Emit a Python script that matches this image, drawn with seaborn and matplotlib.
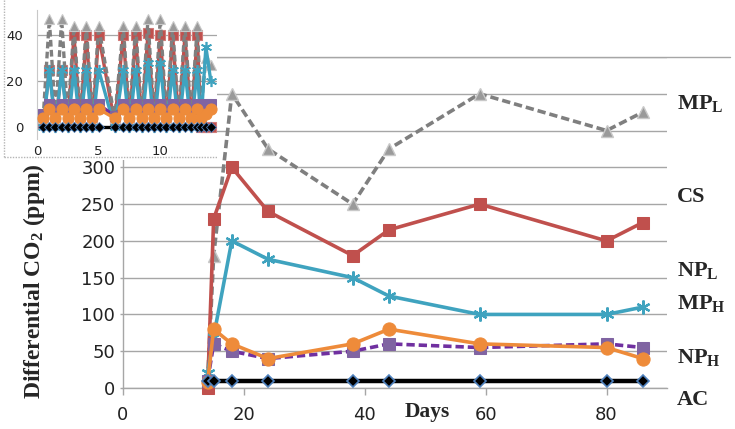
import matplotlib
matplotlib.use("Agg")
import matplotlib.pyplot as plt
import seaborn as sns
from matplotlib.patches import Rectangle
from matplotlib.lines import Line2D
import matplotlib.transforms as mtransforms

# ---------------- main chart data ----------------
days = [14, 15, 18, 24, 38, 44, 59, 80, 86]
mp_l = [10, 180, 400, 325, 250, 325, 400, 350, 375]
cs = [0, 230, 300, 240, 180, 215, 250, 200, 225]
np_l = [20, 70, 200, 175, 150, 125, 100, 100, 110]
mp_h = [10, 60, 50, 40, 50, 60, 55, 60, 55]
np_h = [8, 80, 60, 40, 60, 80, 60, 55, 40]
ac = [10, 10, 10, 10, 10, 10, 10, 10, 10]

x_ticks = [0, 20, 40, 60, 80]
y_ticks = [0, 50, 100, 150, 200, 250, 300, 350, 400, 450]
y_tick_labels = ["0", "50", "100", "150", "200", "250", "300", "", "", ""]

series_labels = ["MP$_\\mathrm{L}$", "CS", "NP$_\\mathrm{L}$", "MP$_\\mathrm{H}$", "NP$_\\mathrm{H}$", "AC"]
series_label_y = [387, 260, 160, 115, 42, -16]

# ---------------- inset data (first two weeks) ----------------
t_in = [0.5, 1, 1.5, 2, 2.5, 3, 3.5, 4, 4.5, 5, 6.3, 7, 7.5, 8, 8.5, 9, 9.5, 10,
        10.5, 11, 11.5, 12, 12.5, 13, 13.3, 13.7, 14.1]
in_mp_l = [4, 47, 4, 47, 4, 44, 4, 44, 4, 44, 4, 44, 4, 44, 4, 47, 4, 47,
           4, 44, 4, 44, 4, 44, 8, 30, 27]
in_cs = [2, 25, 2, 25, 2, 40, 2, 40, 2, 40, 2, 40, 2, 40, 2, 41, 2, 40,
         2, 40, 2, 40, 2, 40, 0, 0, 0]
in_np_l = [0, 25, 0, 25, 0, 25, 0, 25, 0, 25, 0, 25, 0, 25, 0, 28, 0, 28,
           0, 25, 0, 25, 0, 25, 2, 35, 20]
in_mp_h = [6, 10, 8, 10, 8, 10, 8, 10, 8, 10, 5, 10, 8, 10, 8, 10, 8, 10,
           8, 10, 8, 10, 8, 10, 9, 10, 10]
in_np_h = [4, 8, 4, 8, 4, 8, 4, 8, 4, 8, 4, 8, 4, 8, 4, 8, 4, 8,
           4, 8, 4, 8, 4, 8, 4, 6, 8]
in_ac = [0, 0, 0, 0, 0, 0, 0, 0, 0, 0, 0, 0, 0, 0, 0, 0, 0, 0,
         0, 0, 0, 0, 0, 0, 0, 0, 0]
in_x_ticks = [0, 5, 10]
in_y_ticks = [0, 20, 40]

# ---------------- styling ----------------
sns.set_style("white")
plt.rcParams['font.family'] = ['DejaVu Sans']
plt.rcParams['mathtext.fontset'] = 'custom'
plt.rcParams['mathtext.rm'] = 'Liberation Serif:bold'
plt.rcParams['mathtext.it'] = 'Liberation Serif:bold'
plt.rcParams['mathtext.bf'] = 'Liberation Serif:bold'

C_GRAY = '#7F7F7F'
C_RED = '#C0504D'
C_TEAL = '#3FA3BF'
C_PURPLE = '#7030A0'
C_PURPLE_M = '#8064A2'
C_ORANGE = '#EE8B3A'
C_GRID = '#A6A6A6'

W, H = 735, 429
fig = plt.figure(figsize=(W / 100, H / 100), dpi=100)


def fx(px):
    return px / W


def fy(py):
    return 1 - py / H


ax = fig.add_axes([fx(123), fy(388), fx(667) - fx(123), fy(57) - fy(388)])
ax.set_zorder(0)
ax.set_xlim(0, 90)
ax.set_ylim(0, 450)
ax.set_xticks(x_ticks)
ax.set_yticks(y_ticks)
ax.set_yticklabels(y_tick_labels)
ax.grid(axis='y', color=C_GRID, lw=1.0)
ax.grid(axis='x', visible=False)
ax.set_axisbelow(True)
for s in ['top', 'right']:
    ax.spines[s].set_visible(False)
for s in ['left', 'bottom']:
    ax.spines[s].set_color(C_GRID)
    ax.spines[s].set_linewidth(1.0)
ax.tick_params(axis='x', length=5, width=1, color=C_GRID, pad=8, labelsize=13, labelcolor='#222222')
ax.tick_params(axis='y', length=2.5, width=1, color=C_GRID, pad=3, labelsize=13, labelcolor='#222222')
ax.tick_params(bottom=True, left=True)

# top gridline extends further right
top_line = ax.axhline(450, xmin=0, xmax=(730 - 123) / (667 - 123), color=C_GRID, lw=1.0)
top_line.set_clip_on(False)

dash = (0, (2.3, 1.1))
common = dict(ax=ax, sort=False, estimator=None, legend=False, clip_on=False)
sns.lineplot(x=days, y=mp_l, color=C_GRAY, lw=2.6, linestyle=dash, marker='^', markersize=9,
             markerfacecolor='#9A9A9A', markeredgecolor='#C8C8C8', markeredgewidth=1, zorder=3, **common)
sns.lineplot(x=days, y=cs, color=C_RED, lw=2.6, marker='s', markersize=8.5,
             markerfacecolor=C_RED, markeredgecolor=C_RED, zorder=4, **common)
sns.lineplot(x=days, y=np_l, color=C_TEAL, lw=2.6, marker=(6, 2, 0), markersize=10,
             markeredgecolor=C_TEAL, markeredgewidth=1.6, zorder=5, **common)
sns.lineplot(x=days, y=mp_h, color=C_PURPLE, lw=2.6, linestyle=dash, marker='s', markersize=8.5,
             markerfacecolor=C_PURPLE_M, markeredgecolor=C_PURPLE_M, zorder=6, **common)
sns.lineplot(x=days, y=np_h, color=C_ORANGE, lw=2.6, marker='o', markersize=9.5,
             markerfacecolor=C_ORANGE, markeredgecolor=C_ORANGE, zorder=7, **common)
sns.lineplot(x=days, y=ac, color='black', lw=3.2, marker='D', markersize=6.5,
             markerfacecolor='black', markeredgecolor='#4F81BD', markeredgewidth=1.2, zorder=8, **common)

ax.set_xlabel('')
ax.set_ylabel('')

# axis titles
fig.text(fx(34), fy(281), 'Differential CO$_\\mathrm{2}$ (ppm)', rotation=90, ha='center', va='center',
         fontsize=17, fontfamily='Liberation Serif', fontweight='bold')
trans = mtransforms.blended_transform_factory(ax.transData, ax.transAxes)
ax.text(50.3, (388 - 412) / (388 - 57), 'Days', transform=trans, ha='center', va='center',
        fontsize=15.5, fontfamily='Liberation Serif', fontweight='bold')

# series labels at the right
for lab, yv in zip(series_labels, series_label_y):
    ax.text(91.7, yv, lab, ha='left', va='center', fontsize=16, fontfamily='Liberation Serif',
            fontweight='bold', clip_on=False)

# ---------------- inset ----------------
cover = Rectangle((0, fy(160)), fx(217), 1 - fy(160), transform=fig.transFigure,
                  facecolor='white', edgecolor='none', zorder=4)
fig.add_artist(cover)
fig.add_artist(Line2D([fx(4), fx(4)], [fy(0), fy(157)], transform=fig.transFigure,
                      color='#B5B5B5', lw=1, linestyle=(0, (1, 1)), zorder=4.5))
fig.add_artist(Line2D([fx(4), fx(217)], [fy(157), fy(157)], transform=fig.transFigure,
                      color='#B5B5B5', lw=1, linestyle=(0, (1, 1)), zorder=4.5))

axi = fig.add_axes([fx(37), fy(139), fx(217) - fx(37), fy(10) - fy(139)])
axi.set_zorder(5)
axi.patch.set_alpha(0)
axi.set_xlim(0, 14.6)
axi.set_ylim(-5, 51)
axi.set_xticks(in_x_ticks)
axi.set_yticks(in_y_ticks)
axi.grid(axis='y', color=C_GRID, lw=0.9)
axi.grid(axis='x', visible=False)
axi.set_axisbelow(True)
for s in ['top', 'right', 'bottom']:
    axi.spines[s].set_visible(False)
axi.spines['left'].set_color('#C8C8C8')
axi.spines['left'].set_linewidth(0.8)
axi.tick_params(axis='both', length=0, labelsize=9.5, labelcolor='#222222')
axi.tick_params(axis='y', pad=10)
axi.tick_params(axis='x', pad=4)

ci = dict(ax=axi, sort=False, estimator=None, legend=False)
sns.lineplot(x=t_in, y=in_cs, color=C_RED, lw=2.4, marker='s', markersize=7,
             markerfacecolor=C_RED, markeredgecolor='#D07A78', markeredgewidth=0.8, zorder=3, **ci)
sns.lineplot(x=t_in, y=in_mp_l, color=C_GRAY, lw=2.4, linestyle=(0, (2.0, 1.0)), marker='^', markersize=7.5,
             markerfacecolor='#9A9A9A', markeredgecolor='#C8C8C8', markeredgewidth=0.8, zorder=4, **ci)
sns.lineplot(x=t_in, y=in_np_l, color=C_TEAL, lw=2.4, marker=(6, 2, 0), markersize=8,
             markeredgecolor=C_TEAL, markeredgewidth=1.2, zorder=5, **ci)
sns.lineplot(x=t_in, y=in_mp_h, color=C_PURPLE, lw=2.4, marker='s', markersize=6.5,
             markerfacecolor=C_PURPLE_M, markeredgecolor=C_PURPLE_M, zorder=6, **ci)
sns.lineplot(x=t_in, y=in_np_h, color=C_ORANGE, lw=2.4, marker='o', markersize=8,
             markerfacecolor=C_ORANGE, markeredgecolor=C_ORANGE, zorder=7, **ci)
sns.lineplot(x=t_in, y=in_ac, color='black', lw=2.4, marker='D', markersize=5,
             markerfacecolor='black', markeredgecolor='#4F81BD', markeredgewidth=0.6, zorder=8, **ci)
axi.set_xlabel('')
axi.set_ylabel('')

fig.savefig('out.png', dpi=100, facecolor='white')
